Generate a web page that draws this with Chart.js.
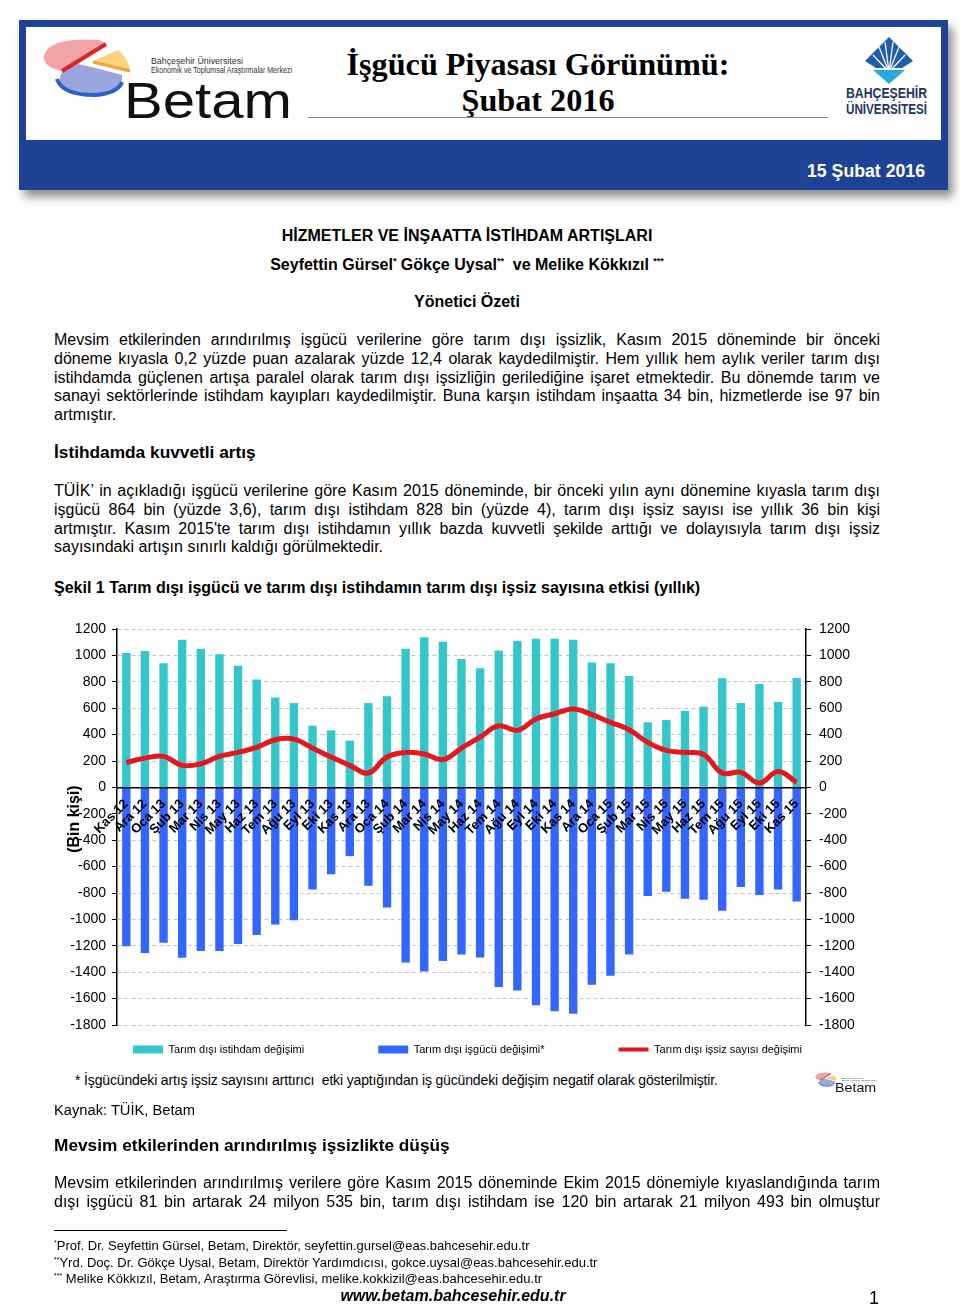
<!DOCTYPE html>
<html lang="tr">
<head>
<meta charset="utf-8">
<title>İşgücü Piyasası Görünümü: Şubat 2016</title>
<script src="https://cdn.jsdelivr.net/npm/chart.js@4.4.1/dist/chart.umd.min.js"></script>
<script>
// Şekil 1 verileri (bin kişi, yıllık değişim)
const months = ['Kas 12', 'Ara 12', 'Oca 13', 'Şub 13', 'Mar 13', 'Nis 13', 'May 13', 'Haz 13', 'Tem 13', 'Ağu 13', 'Eyl 13', 'Eki 13',
    'Kas 13', 'Ara 13', 'Oca 14', 'Şub 14', 'Mar 14', 'Nis 14', 'May 14', 'Haz 14', 'Tem 14', 'Ağu 14', 'Eyl 14', 'Eki 14',
    'Kas 14', 'Ara 14', 'Oca 15', 'Şub 15', 'Mar 15', 'Nis 15', 'May 15', 'Haz 15', 'Tem 15', 'Ağu 15', 'Eyl 15', 'Eki 15', 'Kas 15'];
const istihdam = [1018, 1033, 940, 1119, 1051, 1008, 922, 818, 682, 639, 467, 432,
    354, 639, 690, 1051, 1137, 1104, 973, 902, 1038, 1109, 1127, 1127,
    1119, 947, 940, 844, 493, 510, 579, 611, 826, 639, 783, 647, 828];
const isgucu = [-1204, -1255, -1176, -1290, -1239, -1239, -1186, -1118, -1039, -1006, -773, -658,
    -521, -745, -910, -1326, -1394, -1315, -1265, -1288, -1513, -1539, -1650, -1696,
    -1714, -1496, -1427, -1265, -823, -790, -844, -851, -935, -755, -816, -773, -864];
const issiz = [189, 222, 235, 167, 179, 235, 265, 303, 361, 366, 298, 230,
    167, 109, 230, 265, 253, 210, 298, 381, 467, 432, 518, 558,
    594, 551, 493, 437, 341, 280, 265, 250, 109, 114, 33, 121, 38];
const seriesNames = ['Tarım dışı istihdam değişimi', 'Tarım dışı işgücü değişimi*', 'Tarım dışı işsiz sayısı değişimi'];
const yTicksMin = -1800;
const yTicksMax = 1200;
const yTicksStep = 200;
</script>
<style>
    html, body { margin: 0; padding: 0; background: #fff; }
    body { width: 960px; height: 1305px; position: relative; overflow: hidden;
        font-family: "Liberation Sans", Arial, sans-serif; color: #000; }
    .abs { position: absolute; }
    .ctr { left: 54px; width: 826px; text-align: center; font-weight: bold; font-size: 16px; line-height: 20px; }
    .para { left: 54px; width: 826px; font-size: 16px; line-height: 18.8px; }
    .para div { text-align: justify; text-align-last: justify; }
    .para div.last { text-align-last: left; }
    .h2 { left: 54px; font-weight: bold; font-size: 17.3px; line-height: 20px; }
    sup { font-size: 9px; line-height: 0; vertical-align: 6px; }
    .fn { left: 54px; font-size: 13px; line-height: 16.5px; }
    .fn sup { font-size: 7px; vertical-align: 5px; }
</style>
</head>
<body>

<!-- başlık bandı -->
<div class="abs" style="left:19px;top:20px;width:929px;height:170px;background:#1e4396;box-shadow:5px 7px 9px rgba(0,0,0,0.45);"></div>
<div class="abs" style="left:26px;top:27px;width:915px;height:113px;background:#fff;"></div>
<svg class="abs" style="left:0;top:0" width="960" height="200">
    <defs>
        <g id="betamLogo">
            <path d="M60 82 Q58 68 78 64 L100 69 L122 75 Q124 90 95 93 Q64 94 60 82 Z" fill="#9ba6de"/>
            <path d="M57 79 Q62 95 95 95 Q118 93 122 82" fill="none" stroke="#2c5fc8" stroke-width="4"/>
            <path d="M44 55 Q50 37 100 40 L106 44 L62 71 Q42 67 44 55 Z" fill="#f3a4a6"/>
            <path d="M106 44 L62 71" stroke="#df2329" stroke-width="4"/>
            <path d="M93 61 L118 50 Q128 58 130 70 Z" fill="#fcd27c"/>
            <path d="M93 62 L130 71" stroke="#f2a23a" stroke-width="3"/>
            <text x="151" y="64" font-family="Liberation Sans Narrow, Liberation Sans" font-size="8.5" fill="#333" textLength="92" lengthAdjust="spacingAndGlyphs">Bahçeşehir Üniversitesi</text>
            <text x="151" y="73" font-family="Liberation Sans Narrow, Liberation Sans" font-size="8.5" fill="#333" textLength="141" lengthAdjust="spacingAndGlyphs">Ekonomik ve Toplumsal Araştırmalar Merkezi</text>
            <text x="124" y="118" font-family="Liberation Sans" font-size="50" fill="#111" textLength="168" lengthAdjust="spacingAndGlyphs">Betam</text>
        </g>
    </defs>
    <use href="#betamLogo"/>
    <text x="538" y="75" text-anchor="middle" font-family="Liberation Serif" font-weight="bold" font-size="31" textLength="383" lengthAdjust="spacingAndGlyphs">İşgücü Piyasası Görünümü:</text>
    <text x="538" y="111" text-anchor="middle" font-family="Liberation Serif" font-weight="bold" font-size="31" textLength="153" lengthAdjust="spacingAndGlyphs">Şubat 2016</text>
    <line x1="308" y1="117.5" x2="828" y2="117.5" stroke="#8a8a8a" stroke-width="1"/>
    <!-- Bahçeşehir logosu -->
    <polygon points="889,37 913,61 902,68 876,68 865,61" fill="#1f5db0"/>
    <g stroke="#fff" stroke-width="1.3">
        <line x1="889" y1="72" x2="873" y2="55"/>
        <line x1="889" y1="72" x2="879" y2="47"/>
        <line x1="889" y1="72" x2="885" y2="42"/>
        <line x1="889" y1="72" x2="893" y2="42"/>
        <line x1="889" y1="72" x2="899" y2="47"/>
        <line x1="889" y1="72" x2="905" y2="55"/>
    </g>
    <polygon points="873,70 905,70 889,84" fill="#2aa9e0"/>
    <text x="846" y="98" font-family="Liberation Sans Narrow, Liberation Sans" font-weight="bold" font-size="14" fill="#1b3563" textLength="81" lengthAdjust="spacingAndGlyphs">BAHÇEŞEHİR</text>
    <text x="846" y="114" font-family="Liberation Sans Narrow, Liberation Sans" font-weight="bold" font-size="14" fill="#1b3563" textLength="81" lengthAdjust="spacingAndGlyphs">ÜNİVERSİTESİ</text>
    <text x="925" y="177" text-anchor="end" font-family="Liberation Sans" font-weight="bold" font-size="17.5" fill="#fff" textLength="118" lengthAdjust="spacingAndGlyphs">15 Şubat 2016</text>
</svg>

<div class="abs ctr" style="top:226px;">HİZMETLER VE İNŞAATTA İSTİHDAM ARTIŞLARI</div>
<div class="abs ctr" style="top:255px;">Seyfettin Gürsel<sup>*</sup> Gökçe Uysal<sup>**</sup>&nbsp; ve Melike Kökkızıl <sup>***</sup></div>
<div class="abs ctr" style="top:292px;">Yönetici Özeti</div>

<div class="abs para" style="top:331px;">
    <div>Mevsim etkilerinden arındırılmış işgücü verilerine göre tarım dışı işsizlik, Kasım 2015 döneminde bir önceki</div>
    <div>döneme kıyasla 0,2 yüzde puan azalarak yüzde 12,4 olarak kaydedilmiştir. Hem yıllık hem aylık veriler tarım dışı</div>
    <div>istihdamda güçlenen artışa paralel olarak tarım dışı işsizliğin gerilediğine işaret etmektedir. Bu dönemde tarım ve</div>
    <div>sanayi sektörlerinde istihdam kayıpları kaydedilmiştir. Buna karşın istihdam inşaatta 34 bin, hizmetlerde ise 97 bin</div>
    <div class="last">artmıştır.</div>
</div>

<div class="abs h2" style="top:442px;">İstihdamda kuvvetli artış</div>

<div class="abs para" style="top:482px;">
    <div>TÜİK’ in açıkladığı işgücü verilerine göre Kasım 2015 döneminde, bir önceki yılın aynı dönemine kıyasla tarım dışı</div>
    <div>işgücü 864 bin (yüzde 3,6), tarım dışı istihdam 828 bin (yüzde 4), tarım dışı işsiz sayısı ise yıllık 36 bin kişi</div>
    <div>artmıştır. Kasım 2015'te tarım dışı istihdamın yıllık bazda kuvvetli şekilde arttığı ve dolayısıyla tarım dışı işsiz</div>
    <div class="last">sayısındaki artışın sınırlı kaldığı görülmektedir.</div>
</div>

<div class="abs" style="left:54px;top:578px;font-weight:bold;font-size:16px;line-height:20px;">Şekil 1 Tarım dışı işgücü ve tarım dışı istihdamın tarım dışı işsiz sayısına etkisi (yıllık)</div>

<div class="abs" style="left:55px;top:612px;width:825px;height:453px;">
    <canvas id="chart"></canvas>
</div>

<div class="abs" style="left:75px;top:1071px;font-size:14px;line-height:18px;letter-spacing:-0.15px;">* İşgücündeki artış işsiz sayısını arttırıcı&nbsp; etki yaptığından iş gücündeki değişim negatif olarak gösterilmiştir.</div>
<svg class="abs" style="left:0;top:0;pointer-events:none" width="960" height="1305">
    <use href="#betamLogo" transform="translate(804.7 1062.9) scale(0.245)"/>
</svg>

<div class="abs" style="left:54px;top:1101px;font-size:14.7px;line-height:18px;">Kaynak: TÜİK, Betam</div>

<div class="abs h2" style="top:1135px;">Mevsim etkilerinden arındırılmış işsizlikte düşüş</div>

<div class="abs para" style="top:1174px;">
    <div>Mevsim etkilerinden arındırılmış verilere göre Kasım 2015 döneminde Ekim 2015 dönemiyle kıyaslandığında tarım</div>
    <div>dışı işgücü 81 bin artarak 24 milyon 535 bin, tarım dışı istihdam ise 120 bin artarak 21 milyon 493 bin olmuştur</div>
</div>

<div class="abs" style="left:54px;top:1230px;width:233px;height:1px;background:#000;"></div>
<div class="abs fn" style="top:1238px;">
    <div><sup>*</sup>Prof. Dr. Seyfettin Gürsel, Betam, Direktör, seyfettin.gursel@eas.bahcesehir.edu.tr</div>
    <div><sup>**</sup>Yrd. Doç. Dr. Gökçe Uysal, Betam, Direktör Yardımdıcısı, gokce.uysal@eas.bahcesehir.edu.tr</div>
    <div><sup>***</sup> Melike Kökkızıl, Betam, Araştırma Görevlisi, melike.kokkizil@eas.bahcesehir.edu.tr</div>
</div>
<div class="abs" style="left:253px;width:400px;top:1287px;text-align:center;font-weight:bold;font-style:italic;font-size:16px;line-height:18px;">www.betam.bahcesehir.edu.tr</div>
<div class="abs" style="left:869px;top:1288px;font-size:18px;line-height:20px;">1</div>

<script>
const teal = '#33c7cc';
const blue = '#3366ff';
const red = '#e6161c';
const legendGap = '\u2003'.repeat(5);

// sol eksen başlığı
const yTitle = {
    id: 'yTitle',
    afterDraw(chart) {
        const {ctx, chartArea, scales} = chart;
        ctx.save();
        ctx.translate(chartArea.left - 42, scales.y.getPixelForValue(-240));
        ctx.rotate(-Math.PI / 2);
        ctx.font = 'bold 16px "Liberation Sans"';
        ctx.fillStyle = '#000';
        ctx.textAlign = 'center';
        ctx.textBaseline = 'middle';
        ctx.fillText('(Bin kişi)', 0, 0);
        ctx.restore();
    }
};

const tickFont = {family: '"Liberation Sans"', size: 14};
const plainNumber = (value) => String(value);

new Chart(document.getElementById('chart'), {
    type: 'bar',
    data: {
        labels: months,
        datasets: [
            {label: seriesNames[0], data: istihdam, backgroundColor: teal, grouped: false,
                barPercentage: 0.45, categoryPercentage: 1, order: 1},
            {label: seriesNames[1], data: isgucu, backgroundColor: blue, grouped: false,
                barPercentage: 0.45, categoryPercentage: 1, order: 1},
            {type: 'line', label: seriesNames[2], data: issiz, borderColor: red, backgroundColor: red,
                borderWidth: 5, tension: 0.4, pointRadius: 0, order: 0}
        ]
    },
    options: {
        animation: false,
        responsive: true,
        maintainAspectRatio: false,
        layout: {padding: {top: 17, left: 0, right: 0, bottom: 0}},
        plugins: {
            tooltip: {enabled: false},
            legend: {
                position: 'bottom',
                labels: {
                    usePointStyle: true,
                    pointStyleWidth: 30,
                    boxHeight: 8,
                    padding: 19,
                    color: '#000',
                    font: {family: '"Liberation Sans"', size: 11},
                    generateLabels(chart) {
                        return chart.data.datasets.map((ds, i) => ({
                            text: ds.label + (i < 2 ? legendGap : ''),
                            fillStyle: ds.type === 'line' ? ds.borderColor : ds.backgroundColor,
                            strokeStyle: ds.type === 'line' ? ds.borderColor : ds.backgroundColor,
                            lineWidth: ds.type === 'line' ? 4 : 0,
                            pointStyle: ds.type === 'line' ? 'line' : 'rect',
                            fontColor: '#000',
                            hidden: false,
                            datasetIndex: i
                        }));
                    }
                }
            }
        },
        scales: {
            x: {
                position: {y: 0},
                grid: {display: false},
                border: {color: '#000', width: 1.5, z: 1},
                ticks: {autoSkip: false, maxRotation: 45, minRotation: 45, padding: 1, color: '#000', z: 1,
                    font: {family: '"Liberation Sans"', size: 13, weight: 'bold'}}
            },
            y: {
                position: 'left',
                min: yTicksMin,
                max: yTicksMax,
                ticks: {stepSize: yTicksStep, color: '#000', font: tickFont, padding: 6, callback: plainNumber},
                grid: {color: '#c4c4c4', tickColor: '#000', tickLength: 5, tickBorderDash: []},
                border: {color: '#000', width: 1.5, dash: [4, 3]},
                afterFit(scale) { scale.width = 62; }
            },
            y2: {
                position: 'right',
                min: yTicksMin,
                max: yTicksMax,
                ticks: {stepSize: yTicksStep, color: '#000', font: tickFont, padding: 8, callback: plainNumber},
                grid: {drawOnChartArea: false, tickColor: '#000', tickLength: 5},
                border: {color: '#000', width: 1.5},
                afterFit(scale) { scale.width = 74; }
            }
        }
    },
    plugins: [yTitle]
});
</script>
</body>
</html>
